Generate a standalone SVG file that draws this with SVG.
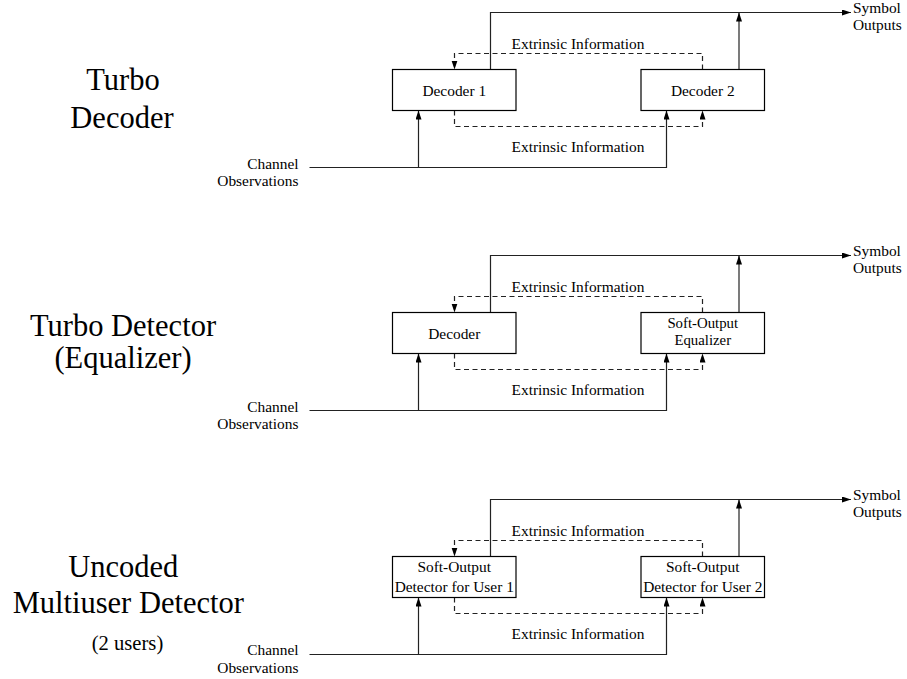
<svg xmlns="http://www.w3.org/2000/svg" width="907" height="679" viewBox="0 0 907 679">
<style>
.bg{fill:#fff}
.box{fill:#fff;stroke:#000;stroke-width:1.2}
.ln{fill:none;stroke:#222;stroke-width:1.2}
.dash{fill:none;stroke:#222;stroke-width:1.2;stroke-dasharray:5,3.5}
.t{font-family:"Liberation Serif","Times New Roman",serif;font-size:15.4px;fill:#000}
.s{font-size:14.8px}
.c{text-anchor:middle}
.r{text-anchor:end}
.title{font-family:"Liberation Serif","Times New Roman",serif;font-size:30.5px;fill:#000;text-anchor:middle}
.sub{font-family:"Liberation Serif","Times New Roman",serif;font-size:20.6px;fill:#000;text-anchor:middle}
</style>
<defs>
<marker id="ah" markerUnits="userSpaceOnUse" markerWidth="10" markerHeight="8" refX="9" refY="3" orient="auto">
<path d="M0,0 L9,3 L0,6 z" fill="#000"/>
</marker>
</defs>
<rect class="bg" x="0" y="0" width="907" height="679"/>

<g id="connectors">
<!-- Panel 1 -->
<path class="ln" d="M490.5,69.5 V12.5 H851" marker-end="url(#ah)"/>
<path class="ln" d="M739,69.5 V12.5" marker-end="url(#ah)"/>
<path class="ln" d="M309.5,167.5 H666.5 V110.5" marker-end="url(#ah)"/>
<path class="ln" d="M418.5,167.5 V110.5" marker-end="url(#ah)"/>
<path class="dash" d="M702.5,69.5 V53.5 H454.5 V69.5" marker-end="url(#ah)"/>
<path class="dash" d="M454.5,110.5 V126.5 H702.5 V110.5" marker-end="url(#ah)"/>
<!-- Panel 2 -->
<path class="ln" d="M490.5,312.5 V255.5 H851" marker-end="url(#ah)"/>
<path class="ln" d="M739,312.5 V255.5" marker-end="url(#ah)"/>
<path class="ln" d="M309.5,410.5 H666.5 V353.5" marker-end="url(#ah)"/>
<path class="ln" d="M418.5,410.5 V353.5" marker-end="url(#ah)"/>
<path class="dash" d="M702.5,312.5 V296.5 H454.5 V312.5" marker-end="url(#ah)"/>
<path class="dash" d="M454.5,353.5 V369.5 H702.5 V353.5" marker-end="url(#ah)"/>
<!-- Panel 3 -->
<path class="ln" d="M490.5,556.5 V499.5 H851" marker-end="url(#ah)"/>
<path class="ln" d="M739,556.5 V499.5" marker-end="url(#ah)"/>
<path class="ln" d="M309.5,654.5 H666.5 V597.5" marker-end="url(#ah)"/>
<path class="ln" d="M418.5,654.5 V597.5" marker-end="url(#ah)"/>
<path class="dash" d="M702.5,556.5 V540.5 H454.5 V556.5" marker-end="url(#ah)"/>
<path class="dash" d="M454.5,597.5 V613.5 H702.5 V597.5" marker-end="url(#ah)"/>
</g>

<g id="labels">
<text class="t c" x="578" y="49">Extrinsic Information</text>
<text class="t c" x="578" y="151.5">Extrinsic Information</text>
<text class="t" x="853" y="13">Symbol</text>
<text class="t" x="853" y="30">Outputs</text>
<text class="t r" x="298.5" y="168.5">Channel</text>
<text class="t r" x="298.5" y="186">Observations</text>

<text class="t c" x="578" y="292">Extrinsic Information</text>
<text class="t c" x="578" y="394.5">Extrinsic Information</text>
<text class="t" x="853" y="256">Symbol</text>
<text class="t" x="853" y="273">Outputs</text>
<text class="t r" x="298.5" y="411.5">Channel</text>
<text class="t r" x="298.5" y="429">Observations</text>

<text class="t c" x="578" y="536">Extrinsic Information</text>
<text class="t c" x="578" y="638.5">Extrinsic Information</text>
<text class="t" x="853" y="500">Symbol</text>
<text class="t" x="853" y="517">Outputs</text>
<text class="t r" x="298.5" y="655">Channel</text>
<text class="t r" x="298.5" y="672.5">Observations</text>
</g>

<g id="title-turbo-decoder">
<text class="title" x="123" y="90">Turbo</text>
<text class="title" x="122" y="128.3">Decoder</text>
</g>
<g id="title-turbo-detector">
<text class="title" x="123" y="336">Turbo Detector</text>
<text class="title" x="123" y="368">(Equalizer)</text>
</g>
<g id="title-multiuser">
<text class="title" x="123.3" y="577">Uncoded</text>
<text class="title" x="128.3" y="613.3">Multiuser Detector</text>
<text class="sub" x="127.5" y="650">(2 users)</text>
</g>

<g id="decoder1">
<rect class="box" x="392.5" y="69.5" width="123.5" height="41"/>
<text class="t c" x="454.25" y="95.5">Decoder 1</text>
</g>
<g id="decoder2">
<rect class="box" x="641" y="69.5" width="123.5" height="41"/>
<text class="t c" x="702.75" y="95.5">Decoder 2</text>
</g>

<g id="decoder">
<rect class="box" x="392.5" y="312.5" width="123.5" height="41"/>
<text class="t c" x="454.25" y="338.5">Decoder</text>
</g>
<g id="equalizer">
<rect class="box" x="641" y="312.5" width="123.5" height="41"/>
<text class="t s c" x="702.75" y="328">Soft-Output</text>
<text class="t s c" x="702.75" y="345.3">Equalizer</text>
</g>

<g id="detector-user1">
<rect class="box" x="392.5" y="556.5" width="123.5" height="41"/>
<text class="t c" x="454.25" y="572.3">Soft-Output</text>
<text class="t c" x="454.25" y="591.5">Detector for User 1</text>
</g>
<g id="detector-user2">
<rect class="box" x="641" y="556.5" width="123.5" height="41"/>
<text class="t c" x="702.75" y="572.3">Soft-Output</text>
<text class="t c" x="702.75" y="591.5">Detector for User 2</text>
</g>
</svg>
